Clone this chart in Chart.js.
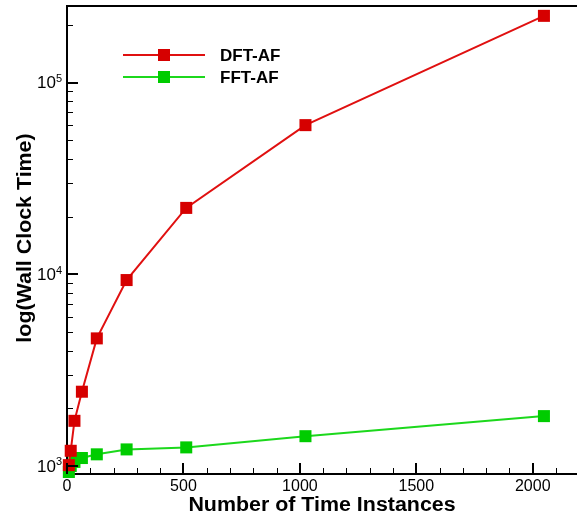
<!DOCTYPE html>
<html>
<head>
<meta charset="utf-8">
<script src="https://cdn.jsdelivr.net/npm/chart.js@4"></script>
<style>
  html, body { margin:0; padding:0; background:#fff; }
  #wrap { width:577px; height:515px; }
</style>
</head>
<body>
<div id="wrap"><canvas id="c" width="577" height="515"></canvas></div>
<script>
const instances = [8, 16, 32, 64, 128, 256, 512, 1024, 2048];
const dftAF = [1010, 1200, 1720, 2440, 4630, 9330, 22200, 60000, 223000];
const fftAF = [930, 1000, 1050, 1100, 1150, 1220, 1250, 1430, 1820];
const seriesNames = ['DFT-AF', 'FFT-AF'];
const xTickLabels = [0, 500, 1000, 1500, 2000];
const xMinorStep = 100;
const yDecades = [3, 4, 5];
const xTitle = 'Number of Time Instances';
const yTitle = 'log(Wall Clock Time)';

const RED = '#d60000', RED_LINE = '#e01010';
const GREEN = '#00cc00', GREEN_LINE = '#1cd81c';
const FONT = '"Liberation Sans", Arial, Helvetica, sans-serif';

const toPts = (xs, ys) => xs.map((x, i) => ({ x, y: ys[i] }));

function drawText(ctx, text, x, y, font, align, baseline, stretch, rot) {
  ctx.save();
  ctx.translate(x, y);
  if (rot) ctx.rotate(rot);
  ctx.scale(stretch || 1, 1);
  ctx.font = font;
  ctx.textAlign = align;
  ctx.textBaseline = baseline;
  ctx.fillText(text, 0, 0);
  ctx.restore();
}

const axesPlugin = {
  id: 'axesDecor',
  afterDraw(chart) {
    const ctx = chart.ctx;
    const xs = chart.scales.x, ys = chart.scales.y;
    const a = chart.chartArea;
    ctx.save();
    ctx.strokeStyle = '#000';
    ctx.fillStyle = '#000';
    // top border
    ctx.lineWidth = 2;
    ctx.beginPath();
    ctx.moveTo(a.left, a.top);
    ctx.lineTo(a.right, a.top);
    ctx.stroke();
    // x ticks
    for (let v = 0; v <= xs.max; v += xMinorStep) {
      const major = v % 500 === 0;
      const px = major ? Math.round(xs.getPixelForValue(v)) : Math.round(xs.getPixelForValue(v)) + 0.5;
      ctx.lineWidth = major ? 2 : 1;
      ctx.beginPath();
      ctx.moveTo(px, a.bottom);
      ctx.lineTo(px, a.bottom - (major ? 11 : 6));
      ctx.stroke();
    }
    xTickLabels.forEach(v => {
      drawText(ctx, String(v), xs.getPixelForValue(v), a.bottom + 12.5, '16px ' + FONT, 'center', 'middle', 1);
    });
    // y ticks
    for (let d = 2; d <= 6; d++) {
      for (let m = 1; m <= 9; m++) {
        const v = m * Math.pow(10, d);
        if (v < ys.min || v > ys.max) continue;
        const major = m === 1;
        const py = major ? Math.round(ys.getPixelForValue(v)) : Math.round(ys.getPixelForValue(v)) + 0.5;
        ctx.lineWidth = major ? 2 : 1;
        ctx.beginPath();
        ctx.moveTo(a.left, py);
        ctx.lineTo(a.left + (major ? 11 : 6), py);
        ctx.stroke();
      }
    }
    yDecades.forEach(e => {
      const py = ys.getPixelForValue(Math.pow(10, e));
      ctx.font = '11px ' + FONT;
      const ew = ctx.measureText(String(e)).width;
      drawText(ctx, String(e), a.left - 5, py - 3.5, '11px ' + FONT, 'right', 'middle', 1);
      drawText(ctx, '10', a.left - 5 - ew, py + 1, '17px ' + FONT, 'right', 'middle', 1);
    });
    // axis titles
    drawText(ctx, xTitle, (a.left + a.right) / 2 + 0, 511, 'bold 20px ' + FONT, 'center', 'alphabetic', 1.07);
    drawText(ctx, yTitle, 31, (a.top + a.bottom) / 2 - 2, 'bold 20px ' + FONT, 'center', 'alphabetic', 1.07, -Math.PI / 2);
    // legend
    const items = [
      { name: seriesNames[0], line: RED_LINE, fill: RED, y: 55 },
      { name: seriesNames[1], line: GREEN_LINE, fill: GREEN, y: 77 }
    ];
    items.forEach(it => {
      ctx.strokeStyle = it.line;
      ctx.lineWidth = 2;
      ctx.beginPath();
      ctx.moveTo(123, it.y);
      ctx.lineTo(205, it.y);
      ctx.stroke();
      ctx.fillStyle = it.fill;
      ctx.fillRect(158, it.y - 6, 12, 12);
      ctx.fillStyle = '#000';
      drawText(ctx, it.name, 220, it.y + 1, 'bold 17px ' + FONT, 'left', 'middle', 1);
    });
    ctx.restore();
  }
};

new Chart(document.getElementById('c'), {
  type: 'line',
  data: {
    datasets: [
      {
        label: seriesNames[0],
        data: toPts(instances, dftAF),
        borderColor: RED_LINE,
        backgroundColor: RED,
        pointBackgroundColor: RED,
        pointBorderColor: RED,
        borderWidth: 2,
        pointStyle: 'rect',
        pointRadius: 8.5,
        pointBorderWidth: 0,
        clip: false
      },
      {
        label: seriesNames[1],
        data: toPts(instances, fftAF),
        borderColor: GREEN_LINE,
        backgroundColor: GREEN,
        pointBackgroundColor: GREEN,
        pointBorderColor: GREEN,
        borderWidth: 2,
        pointStyle: 'rect',
        pointRadius: 8.5,
        pointBorderWidth: 0,
        clip: false
      }
    ]
  },
  options: {
    responsive: false,
    animation: false,
    devicePixelRatio: 1,
    layout: { autoPadding: false, padding: { top: 6, left: 0, right: 0, bottom: 0 } },
    plugins: { legend: { display: false }, tooltip: { enabled: false } },
    scales: {
      x: {
        type: 'linear',
        min: 0,
        max: 2190,
        grid: { display: false, drawTicks: false },
        border: { display: true, color: '#000', width: 2 },
        ticks: { display: false },
        afterFit(s) { s.height = 41; }
      },
      y: {
        type: 'logarithmic',
        min: 908,
        max: 251000,
        grid: { display: false, drawTicks: false },
        border: { display: true, color: '#000', width: 2 },
        ticks: { display: false },
        afterFit(s) { s.width = 67; }
      }
    }
  },
  plugins: [axesPlugin]
});
</script>
</body>
</html>
